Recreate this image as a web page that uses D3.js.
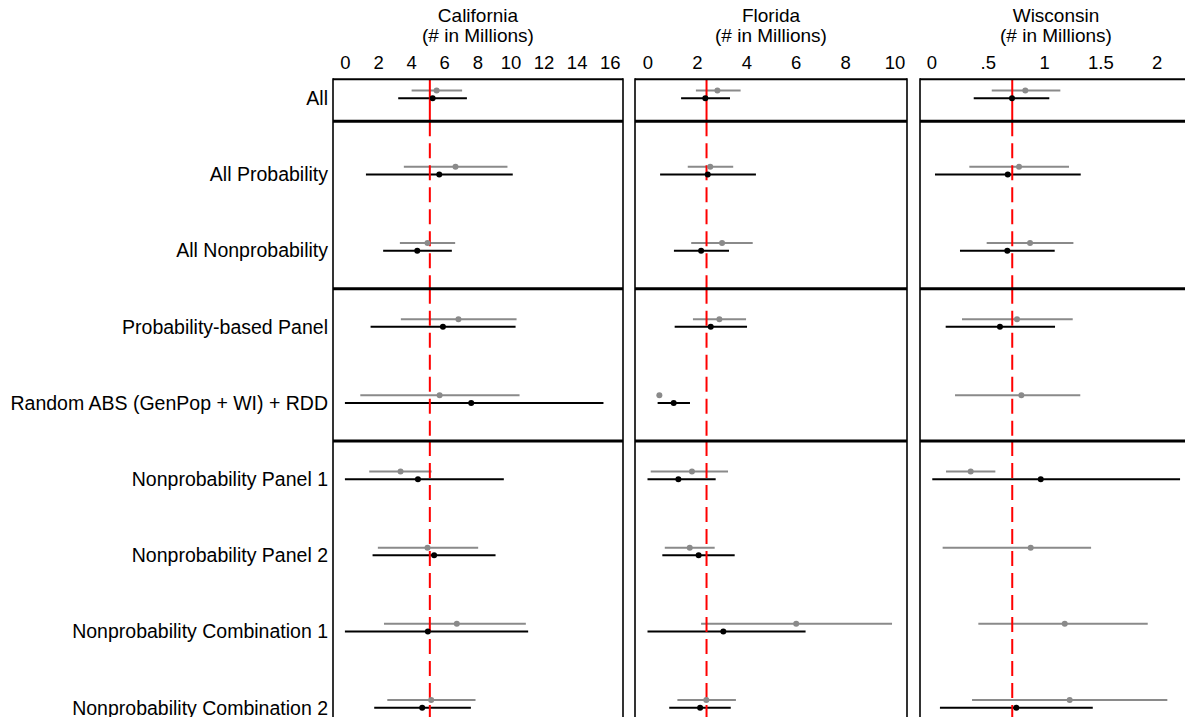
<!DOCTYPE html>
<html>
<head>
<meta charset="utf-8">
<script src="https://cdn.jsdelivr.net/npm/d3@7"></script>
<style>
  html, body { margin: 0; padding: 0; background: #fff; }
  svg { display: block; font-family: "Liberation Sans", Arial, sans-serif; }
</style>
</head>
<body>
<svg id="chart" width="1185" height="717"></svg>
<script>
// ---------------- DATA ----------------
const categories = [
  "All",
  "All Probability",
  "All Nonprobability",
  "Probability-based Panel",
  "Random ABS (GenPop + WI) + RDD",
  "Nonprobability Panel 1",
  "Nonprobability Panel 2",
  "Nonprobability Combination 1",
  "Nonprobability Combination 2"
];
const states = ["California", "Florida", "Wisconsin"];
const subtitle = "(# in Millions)";
const benchmarks = [5.13, 2.39, 0.717];

// group boundaries (in row units) and top edge
const groupBreaks = [0.3, 2.5, 4.5];
const topEdge = -0.25;

// California
const caGrayEst  = [5.54, 6.68, 4.99, 6.86, 5.72, 3.36, 4.99, 6.76, 5.21];
const caGrayLo   = [4.03, 3.56, 3.32, 3.38, 0.93, 1.47, 1.99, 2.36, 2.56];
const caGrayHi   = [7.08, 9.82, 6.66, 10.37, 10.55, 5.24, 8.05, 10.93, 7.89];
const caBlackEst = [5.30, 5.70, 4.37, 5.92, 7.63, 4.41, 5.39, 5.01, 4.67];
const caBlackLo  = [3.22, 1.27, 2.31, 1.55, 0.00, 0.00, 1.67, 0.00, 1.77];
const caBlackHi  = [7.37, 10.14, 6.46, 10.31, 15.62, 9.60, 9.10, 11.07, 7.61];

// Florida
const flGrayEst  = [2.83, 2.54, 3.02, 2.91, 0.48, 1.80, 1.71, 6.02, 2.38];
const flGrayLo   = [1.96, 1.63, 1.77, 1.84, 0.48, 0.13, 0.70, 2.17, 1.21];
const flGrayHi   = [3.77, 3.47, 4.26, 3.99, 0.48, 3.26, 2.72, 9.90, 3.58];
const flBlackEst = [2.34, 2.44, 2.17, 2.56, 1.06, 1.25, 2.07, 3.07, 2.13];
const flBlackLo  = [1.36, 0.51, 1.07, 1.10, 0.41, 0.00, 0.60, 0.00, 0.88];
const flBlackHi  = [3.34, 4.39, 3.30, 4.03, 1.72, 2.76, 3.53, 6.40, 3.37];

// Wisconsin
const wiGrayEst  = [0.833, 0.777, 0.875, 0.759, 0.798, 0.348, 0.881, 1.183, 1.227];
const wiGrayLo   = [0.535, 0.336, 0.490, 0.271, 0.209, 0.129, 0.099, 0.416, 0.360];
const wiGrayHi   = [1.144, 1.221, 1.260, 1.254, 1.321, 0.567, 1.417, 1.920, 2.094];
const wiBlackEst = [0.715, 0.677, 0.673, 0.608, null, 0.970, null, null, 0.753];
const wiBlackLo  = [0.375, 0.031, 0.253, 0.126, null, 0.007, null, null, 0.075];
const wiBlackHi  = [1.046, 1.325, 1.094, 1.097, null, 2.207, null, null, 1.432];

// axes
const caTicks = [0, 2, 4, 6, 8, 10, 12, 14, 16];
const caTickLabels = ["0", "2", "4", "6", "8", "10", "12", "14", "16"];
const flTicks = [0, 2, 4, 6, 8, 10];
const flTickLabels = ["0", "2", "4", "6", "8", "10"];
const wiTicks = [0, 0.5, 1, 1.5, 2];
const wiTickLabels = ["0", ".5", "1", "1.5", "2"];
const caDomain = [-0.72, 16.8];
const flDomain = [-0.506, 10.506];
const wiDomain = [-0.102, 2.313];

// ---------------- LAYOUT ----------------
const panelRanges = [[333, 623], [635, 907], [920, 1192]];
const rowTop = 98.3, rowBottom = 707.7;
const grayOffset = -7.7;
const frameTop = 79, frameBottom = 725;
const grayColor = "#8a8a8a";

const panels = [
  { name: states[0], domain: caDomain, ticks: caTicks, labels: caTickLabels, bench: benchmarks[0],
    gray: { est: caGrayEst, lo: caGrayLo, hi: caGrayHi }, black: { est: caBlackEst, lo: caBlackLo, hi: caBlackHi } },
  { name: states[1], domain: flDomain, ticks: flTicks, labels: flTickLabels, bench: benchmarks[1],
    gray: { est: flGrayEst, lo: flGrayLo, hi: flGrayHi }, black: { est: flBlackEst, lo: flBlackLo, hi: flBlackHi } },
  { name: states[2], domain: wiDomain, ticks: wiTicks, labels: wiTickLabels, bench: benchmarks[2],
    gray: { est: wiGrayEst, lo: wiGrayLo, hi: wiGrayHi }, black: { est: wiBlackEst, lo: wiBlackLo, hi: wiBlackHi } }
];

const svg = d3.select("#chart");
const y = d3.scaleLinear().domain([0, categories.length - 1]).range([rowTop, rowBottom]);

// row labels
svg.append("g").selectAll("text")
  .data(categories)
  .join("text")
  .attr("x", 328)
  .attr("y", (d, i) => y(i))
  .attr("dy", "0.35em")
  .attr("text-anchor", "end")
  .attr("font-size", 19.5)
  .attr("fill", "#000")
  .text(d => d);

panels.forEach((p, pi) => {
  const [x0, x1] = panelRanges[pi];
  const x = d3.scaleLinear().domain(p.domain).range([x0, x1]);
  const g = svg.append("g");
  const cx = (x0 + x1) / 2;

  // titles
  g.append("text").attr("x", cx).attr("y", 22).attr("text-anchor", "middle")
    .attr("font-size", 19).text(p.name);
  g.append("text").attr("x", cx).attr("y", 42).attr("text-anchor", "middle")
    .attr("font-size", 19).text(subtitle);

  // axis
  const axis = d3.axisTop(x).tickValues(p.ticks)
    .tickFormat((d, i) => p.labels[i]).tickSize(0).tickPadding(10);
  const ag = g.append("g").attr("transform", `translate(0,${frameTop})`).call(axis);
  ag.select(".domain").remove();
  ag.selectAll("text").attr("font-size", 18.5).attr("font-family", "Liberation Sans, Arial, sans-serif").attr("fill", "#000");

  // CI lines
  const series = [
    { d: p.gray, color: grayColor, off: grayOffset },
    { d: p.black, color: "#000", off: 0 }
  ];
  series.forEach(s => {
    const rows = categories.map((c, i) => ({ i, est: s.d.est[i], lo: s.d.lo[i], hi: s.d.hi[i] }))
      .filter(r => r.est !== null);
    g.append("g").selectAll("line")
      .data(rows)
      .join("line")
      .attr("x1", r => x(r.lo)).attr("x2", r => x(r.hi))
      .attr("y1", r => y(r.i) + s.off).attr("y2", r => y(r.i) + s.off)
      .attr("stroke", s.color).attr("stroke-width", 2);
  });

  // benchmark red dashed line, drawn box by box
  const edges = [topEdge].concat(groupBreaks);
  const boxes = edges.map((e, k) => ({ k, from: y(e), to: k + 1 < edges.length ? y(edges[k + 1]) : frameBottom }));
  g.append("g").selectAll("line")
    .data(boxes)
    .join("line")
    .attr("x1", x(p.bench)).attr("x2", x(p.bench))
    .attr("y1", b => b.from).attr("y2", b => b.to)
    .attr("stroke", "#ff0000").attr("stroke-width", 2)
    .attr("stroke-dasharray", b => b.k === 0 ? null : "15,7");

  // dots
  series.forEach(s => {
    const rows = categories.map((c, i) => ({ i, est: s.d.est[i] }))
      .filter(r => r.est !== null);
    g.append("g").selectAll("circle")
      .data(rows)
      .join("circle")
      .attr("cx", r => x(r.est))
      .attr("cy", r => y(r.i) + s.off)
      .attr("r", 3)
      .attr("fill", s.color);
  });

  // frame
  g.append("line").attr("x1", x0).attr("x2", x1).attr("y1", y(topEdge)).attr("y2", y(topEdge))
    .attr("stroke", "#000").attr("stroke-width", 2);
  g.append("g").selectAll("line")
    .data(groupBreaks)
    .join("line")
    .attr("x1", x0).attr("x2", x1)
    .attr("y1", d => y(d)).attr("y2", d => y(d))
    .attr("stroke", "#000").attr("stroke-width", 3);
  [x0, x1].forEach(xx => {
    g.append("line").attr("x1", xx).attr("x2", xx).attr("y1", y(topEdge) - 1).attr("y2", frameBottom)
      .attr("stroke", "#000").attr("stroke-width", 1.6);
  });
});
</script>
</body>
</html>
